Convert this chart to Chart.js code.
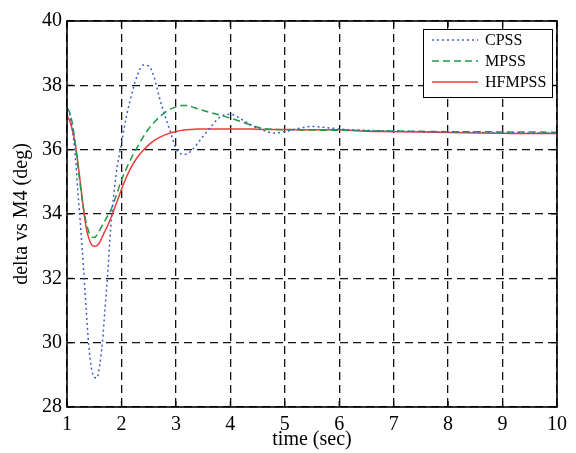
<!DOCTYPE html>
<html>
<head>
<meta charset="utf-8">
<script src="https://cdn.jsdelivr.net/npm/chart.js@4.4.1/dist/chart.umd.min.js"></script>
<style>
  html, body { margin: 0; padding: 0; background: #fff; }
  #wrap { width: 576px; height: 453px; }
</style>
</head>
<body>
<div id="wrap"><canvas id="c" width="576" height="453"></canvas></div>
<script>
// sample times (sec), shared by all three responses
var times = [1, 1.05, 1.1, 1.15, 1.2, 1.25, 1.3, 1.35, 1.4, 1.45, 1.5, 1.55, 1.6, 1.65, 1.7, 1.75, 1.8, 1.9,
  2.0, 2.1, 2.2, 2.3, 2.4, 2.5, 2.6, 2.7, 2.8, 2.9, 3.0, 3.1, 3.2, 3.3, 3.4, 3.5, 3.6, 3.8,
  4.0, 4.2, 4.4, 4.6, 4.8, 5.0, 5.25, 5.5, 5.75, 6, 6.5, 7, 7.5, 8, 8.5, 9, 9.5, 10];

var cpss = [37.25, 37.1, 36.6, 35.85, 34.7, 33.6, 32.4, 31.1, 29.9, 29.2, 28.93, 28.9, 29.3, 30.0, 31.1, 32.2, 33.5, 35.2,
  36.2, 37.1, 37.8, 38.35, 38.63, 38.6, 38.25, 37.6, 37.05, 36.55, 36.05, 35.87, 35.86, 36.0, 36.2, 36.42, 36.62, 37.0,
  37.1, 36.95, 36.75, 36.6, 36.52, 36.56, 36.66, 36.72, 36.69, 36.64, 36.6, 36.58, 36.56, 36.55, 36.54, 36.53, 36.52, 36.52];

var mpss = [37.3, 37.15, 36.8, 36.2, 35.5, 34.8, 34.2, 33.75, 33.45, 33.3, 33.27, 33.35, 33.5, 33.65, 33.8, 33.95, 34.1, 34.55,
  35.05, 35.45, 35.8, 36.1, 36.4, 36.65, 36.85, 37.02, 37.16, 37.26, 37.33, 37.37, 37.37, 37.33, 37.27, 37.22, 37.17, 37.08,
  36.98, 36.87, 36.75, 36.66, 36.63, 36.62, 36.61, 36.61, 36.6, 36.6, 36.59, 36.58, 36.57, 36.56, 36.56, 36.55, 36.55, 36.54];

var hfmpss = [37.05, 36.9, 36.6, 36.2, 35.6, 34.9, 34.2, 33.6, 33.25, 33.05, 33.0, 33.02, 33.12, 33.3, 33.48, 33.65, 33.85, 34.3,
  34.76, 35.18, 35.52, 35.78, 35.98, 36.15, 36.28, 36.38, 36.46, 36.52, 36.56, 36.6, 36.62, 36.63, 36.64, 36.64, 36.64, 36.64,
  36.64, 36.64, 36.64, 36.63, 36.63, 36.63, 36.62, 36.62, 36.62, 36.62, 36.57, 36.56, 36.55, 36.53, 36.52, 36.51, 36.5, 36.5];

var seriesNames = ['CPSS', 'MPSS', 'HFMPSS'];
var xTicks = [1, 2, 3, 4, 5, 6, 7, 8, 9, 10];
var yTicks = [28, 30, 32, 34, 36, 38, 40];

function pts(vals) {
  return times.map(function(t, i) { return {x: t, y: vals[i]}; });
}

var serif = "'Liberation Serif', 'DejaVu Serif', serif";

// draws the box round the plot, inward tick marks and the legend
var boxAndLegend = {
  id: 'boxAndLegend',
  afterDraw: function(chart) {
    var ctx = chart.ctx, a = chart.chartArea;
    var xs = chart.scales.x, ys = chart.scales.y;
    ctx.save();
    ctx.strokeStyle = '#000';
    ctx.setLineDash([]);

    // inward ticks, like matlab
    ctx.lineWidth = 1.2;
    ctx.beginPath();
    xTicks.forEach(function(v) {
      var px = xs.getPixelForValue(v);
      ctx.moveTo(px, a.bottom); ctx.lineTo(px, a.bottom - 6);
      ctx.moveTo(px, a.top); ctx.lineTo(px, a.top + 6);
    });
    yTicks.forEach(function(v) {
      var py = ys.getPixelForValue(v);
      ctx.moveTo(a.left, py); ctx.lineTo(a.left + 6, py);
      ctx.moveTo(a.right, py); ctx.lineTo(a.right - 6, py);
    });
    ctx.stroke();

    ctx.lineWidth = 1.6;
    ctx.strokeRect(a.left, a.top, a.right - a.left, a.bottom - a.top);

    var lx = 423, ly = 29, lw = 129, lh = 68;
    ctx.fillStyle = '#fff';
    ctx.fillRect(lx, ly, lw, lh);
    ctx.lineWidth = 1;
    ctx.strokeStyle = '#000';
    ctx.strokeRect(lx + 0.5, ly + 0.5, lw, lh);

    ctx.font = '16px ' + serif;
    ctx.textBaseline = 'middle';
    chart.data.datasets.forEach(function(ds, i) {
      var y = ly + 11 + i * 21;
      ctx.strokeStyle = ds.borderColor;
      ctx.lineWidth = ds.borderWidth;
      ctx.setLineDash(ds.borderDash || []);
      ctx.beginPath();
      ctx.moveTo(lx + 9, y);
      ctx.lineTo(lx + 55, y);
      ctx.stroke();
      ctx.fillStyle = '#000';
      ctx.fillText(ds.label, lx + 62, y + 1);
    });
    ctx.restore();
  }
};

var gridStyle = {
  color: '#111',
  lineWidth: 1.3,
  drawTicks: false
};

new Chart(document.getElementById('c'), {
  type: 'line',
  data: {
    datasets: [
      { label: seriesNames[0], data: pts(cpss), borderColor: '#3f5fc8', borderWidth: 1.5, borderDash: [2, 3] },
      { label: seriesNames[1], data: pts(mpss), borderColor: '#1f9a4a', borderWidth: 1.5, borderDash: [7, 4] },
      { label: seriesNames[2], data: pts(hfmpss), borderColor: '#f03a3a', borderWidth: 1.5 }
    ]
  },
  options: {
    responsive: false,
    animation: false,
    devicePixelRatio: 1,
    layout: { padding: { left: 0, right: 19, top: 21, bottom: 0 } },
    elements: {
      point: { radius: 0 },
      line: { tension: 0.4, cubicInterpolationMode: 'monotone', fill: false }
    },
    plugins: { legend: { display: false }, tooltip: { enabled: false } },
    scales: {
      x: {
        type: 'linear', min: 1, max: 10,
        afterBuildTicks: function(s) { s.ticks = xTicks.map(function(v) { return {value: v}; }); },
        afterFit: function(s) { s.height = 46; },
        grid: gridStyle,
        border: { display: false, dash: [8, 5] },
        ticks: { color: '#000', padding: 6, font: { family: serif, size: 20 } },
        title: { display: true, text: 'time (sec)', color: '#000', padding: { top: 0, bottom: 1 }, font: { family: serif, size: 20 } }
      },
      y: {
        min: 28, max: 40,
        afterBuildTicks: function(s) { s.ticks = yTicks.map(function(v) { return {value: v}; }); },
        afterFit: function(s) { s.width = 67; },
        grid: gridStyle,
        border: { display: false, dash: [8, 5] },
        ticks: { color: '#000', padding: 5, font: { family: serif, size: 20 } },
        title: { display: true, text: 'delta vs M4 (deg)', color: '#000', padding: { top: 10, bottom: 0 }, font: { family: serif, size: 20 } }
      }
    }
  },
  plugins: [boxAndLegend]
});
</script>
</body>
</html>
